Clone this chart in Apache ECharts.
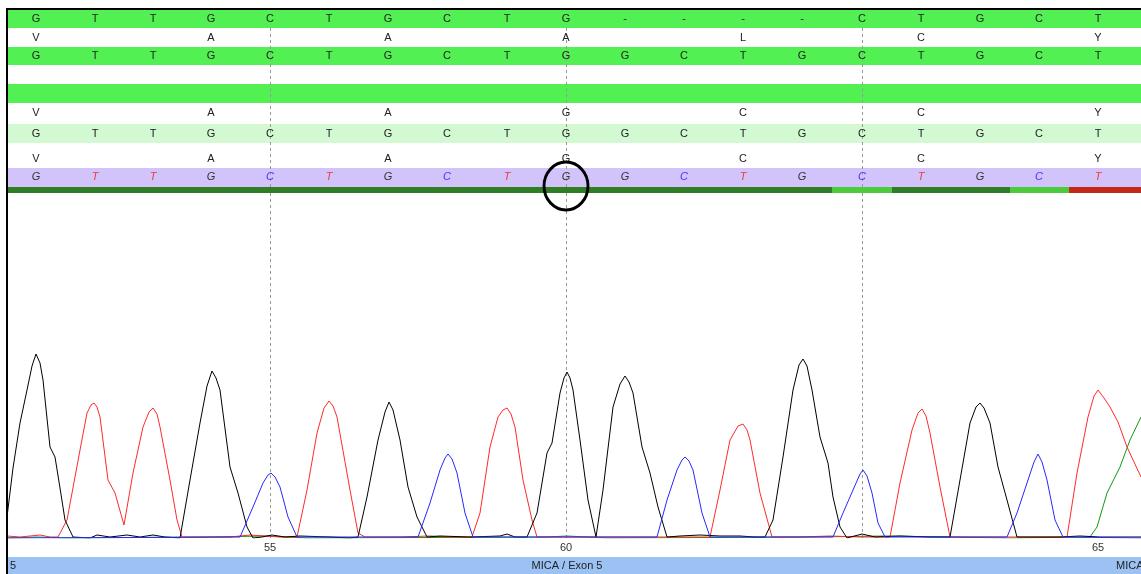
<!DOCTYPE html>
<html>
<head>
<meta charset="utf-8">
<script src="https://cdn.jsdelivr.net/npm/echarts@6/dist/echarts.min.js"></script>
<style>
html,body{margin:0;padding:0;background:#fff;}
#chart{width:1141px;height:574px;}
</style>
</head>
<body>
<div id="chart"></div>
<script>
// ---------- DATA ----------
// scan position of every base call (alignment column)
const callScans = [29,88,146,204,263,322,381,440,500,559,618,677,736,795,855,914,973,1032,1091];
// reference numbering of every column (null = insertion column)
const refPos = [51,52,53,54,55,56,57,58,59,60,null,null,null,null,61,62,63,64,65];
const refSeq       = ['G','T','T','G','C','T','G','C','T','G','-','-','-','-','C','T','G','C','T'];
const refAA        = ['V','','','A','','','A','','','A','','','L','','','C','','','Y'];
const consensusSeq = ['G','T','T','G','C','T','G','C','T','G','G','C','T','G','C','T','G','C','T'];
const sampleAA     = ['V','','','A','','','A','','','G','','','C','','','C','','','Y'];
const sampleSeq    = ['G','T','T','G','C','T','G','C','T','G','G','C','T','G','C','T','G','C','T'];
const callAA       = ['V','','','A','','','A','','','G','','','C','','','C','','','Y'];
const baseCalls    = ['G','T','T','G','C','T','G','C','T','G','G','C','T','G','C','T','G','C','T'];
const callQuality  = ['hi','hi','hi','hi','hi','hi','hi','hi','hi','hi','hi','hi','hi','hi','mid','hi','hi','mid','lo'];
const markerCols   = [5,10,15];
const circledCol   = 10;
const regionLabels = ['5','MICA / Exon 5','MICA'];

// trace samples [scan, signal]
const traceG = [[0,21],[6,70],[13,115],[20,148],[25,172],[29,184],[33,175],[36,158],[43,91],[48,81],[53,50],[58,18],[66,1],[83,0],[90,3],[103,1],[120,3],[133,1],[146,3],[158,1],[173,0],
 [183,58],[193,115],[200,152],[205,167],[209,160],[213,148],[223,71],[231,45],[240,11],[246,0],[255,1],[265,3],[278,1],[293,2],[323,1],[343,0],
 [351,1],[360,41],[371,98],[378,126],[382,136],[386,128],[393,98],[401,51],[410,21],[420,1],[433,2],[463,1],[493,2],[500,4],[508,1],[520,1],
 [530,25],[540,85],[545,95],[553,145],[557,160],[560,166],[563,160],[566,148],[573,98],[581,38],[589,1],
 [596,48],[606,131],[613,154],[618,162],[622,156],[626,145],[635,91],[643,65],[651,31],[660,1],[673,2],[693,3],[713,2],[733,2],[748,1],
 [758,1],[766,18],[776,81],[786,148],[792,173],[796,179],[800,172],[805,148],[813,101],[821,75],[826,41],[833,11],[840,0],[855,4],[868,1],[893,2],[923,1],
 [943,1],[953,58],[963,115],[969,131],[973,135],[977,130],[983,115],[991,71],[1000,38],[1010,1],[1023,1],[1053,1],[1073,2],[1093,1],[1134,1]];
const traceT = [[0,2],[13,1],[33,3],[43,1],[51,1],[60,18],[73,88],[80,125],[84,133],[87,135],[90,131],[93,121],[101,58],[108,45],[117,13],
 [126,65],[136,111],[142,126],[146,130],[150,124],[153,111],[163,58],[170,18],[175,1],[193,1],[223,1],[243,3],[258,2],[273,1],[290,1],
 [300,48],[310,105],[317,130],[322,137],[326,132],[330,121],[343,48],[351,5],[358,1],[393,1],[423,2],[443,1],[465,1],
 [473,25],[483,91],[491,121],[496,128],[500,130],[504,124],[508,111],[516,58],[525,18],[530,1],[553,1],[593,1],[633,1],[673,1],[703,1],
 [713,48],[723,98],[731,112],[736,114],[740,108],[743,98],[753,45],[765,1],[793,1],[823,2],[853,1],[883,1],
 [893,55],[905,108],[911,125],[915,129],[919,122],[923,105],[933,51],[943,1],[973,1],[1003,1],[1033,1],[1060,1],
 [1070,65],[1081,121],[1087,142],[1091,148],[1097,140],[1103,131],[1111,116],[1120,91],[1134,61]];
const traceC = [[0,0],[233,1],[246,31],[256,55],[261,63],[264,65],[268,61],[273,51],[281,21],[290,1],[411,1],
 [423,35],[433,68],[438,80],[441,84],[445,79],[450,65],[458,25],[466,1],[650,1],
 [660,38],[670,68],[675,78],[678,81],[682,77],[686,68],[695,25],[703,1],[826,1],
 [836,25],[846,48],[853,64],[856,68],[860,62],[865,45],[871,15],[878,1],[1000,1],
 [1010,25],[1020,55],[1027,76],[1031,84],[1035,76],[1040,58],[1048,18],[1056,1],[1134,0]];
const traceA = [[0,0],[30,1],[60,0],[200,1],[260,2],[300,0],[540,1],[560,2],[600,0],[800,1],[880,2],[1000,0],[1083,1],
 [1090,11],[1100,45],[1113,71],[1123,98],[1134,121]];

// ---------- LAYOUT / STYLE ----------
const X_MAX = 1134;
const TOP_H = 183, CH_H = 345;
const GREEN = '#52f052', LIGHT = '#d3f9d3', PURPLE = '#d2c3fa';
const ROWS = [
  {y0:0,  y1:18,  bg:GREEN,  seq:refSeq,       ty:9},
  {y0:18, y1:37,  bg:'#fff', seq:refAA,        ty:28},
  {y0:37, y1:55,  bg:GREEN,  seq:consensusSeq, ty:46},
  {y0:55, y1:74,  bg:'#fff'},
  {y0:74, y1:93,  bg:GREEN},
  {y0:93, y1:114, bg:'#fff', seq:sampleAA,     ty:103},
  {y0:114,y1:133, bg:LIGHT,  seq:sampleSeq,    ty:124},
  {y0:133,y1:158, bg:'#fff', seq:callAA,       ty:149},
  {y0:158,y1:177, bg:PURPLE, seq:baseCalls,    ty:167, italic:true}
];
const QBAR = {y0:177, y1:183};
const QCOL = {hi:'#2f7d24', mid:'#4ccc3c', lo:'#c4281a'};
const CALLCOL = {G:'#333333', T:'#ee3b3b', C:'#4433ff', A:'#119911'};
const FONT = '"Liberation Sans", Arial, sans-serif';

// derived
const letterData = [];
ROWS.forEach((r, ri) => {
  if (!r.seq) return;
  r.seq.forEach((s, ci) => { if (s) letterData.push([callScans[ci], r.ty, ci, ri]); });
});
const tickScans = [], tickText = {};
refPos.forEach((p, i) => { if (p !== null && p % 5 === 0) { tickScans.push(callScans[i]); tickText[callScans[i]] = String(p); } });
// merge consecutive columns with equal quality into runs
const qRuns = [];
callQuality.forEach((q, i) => {
  const x0 = i === 0 ? 0 : (callScans[i-1] + callScans[i]) / 2;
  const x1 = i === callScans.length - 1 ? X_MAX : (callScans[i] + callScans[i+1]) / 2;
  const last = qRuns[qRuns.length - 1];
  if (last && last.q === q) last.x1 = x1; else qRuns.push({q, x0, x1});
});

const chart = echarts.init(document.getElementById('chart'), null, {renderer:'canvas'});
const option = {
  animation: false,
  backgroundColor: '#fff',
  grid: [
    {left:7, right:0, top:10, height:TOP_H},
    {left:7, right:0, top:193, height:CH_H}
  ],
  xAxis: [
    {gridIndex:0, type:'value', min:0, max:X_MAX, show:false},
    {gridIndex:1, type:'value', min:0, max:X_MAX,
     axisLine:{show:false}, axisTick:{show:false}, splitLine:{show:false},
     axisLabel:{customValues:tickScans, formatter:v => tickText[v] || '', color:'#333', fontSize:11,
       fontFamily:FONT, margin:4}}
  ],
  yAxis: [
    {gridIndex:0, type:'value', min:0, max:TOP_H, inverse:true, show:false},
    {gridIndex:1, type:'value', min:0, max:CH_H, show:false}
  ],
  series: [
    { // row backgrounds
      type:'custom', xAxisIndex:0, yAxisIndex:0, z:1, silent:true,
      data: ROWS.map((r,i)=>[i]),
      renderItem:(params, api) => {
        const r = ROWS[api.value(0)];
        const p0 = api.coord([0, r.y0]), p1 = api.coord([X_MAX, r.y1]);
        return {type:'rect', shape:{x:p0[0], y:p0[1], width:p1[0]-p0[0], height:p1[1]-p0[1]}, style:{fill:r.bg}};
      }
    },
    { // quality bar
      type:'custom', xAxisIndex:0, yAxisIndex:0, z:2, silent:true,
      data: qRuns.map((r,i)=>[i]),
      renderItem:(params, api) => {
        const r = qRuns[api.value(0)];
        const p0 = api.coord([r.x0, QBAR.y0]), p1 = api.coord([r.x1, QBAR.y1]);
        const xa = Math.round(p0[0]), xb = Math.round(p1[0]);
        return {type:'rect', shape:{x:xa, y:p0[1], width:xb-xa, height:p1[1]-p0[1]}, style:{fill:QCOL[r.q]}};
      }
    },
    { // dashed markers (top)
      type:'custom', xAxisIndex:0, yAxisIndex:0, z:2, silent:true,
      data: markerCols.map(c=>[callScans[c-1]]),
      renderItem:(params, api) => {
        const a = api.coord([api.value(0), 18]), b = api.coord([api.value(0), QBAR.y0]);
        return {type:'line', shape:{x1:Math.round(a[0])+0.5, y1:a[1], x2:Math.round(b[0])+0.5, y2:b[1]},
                style:{stroke:'#999', lineWidth:1, lineDash:[3,3]}};
      }
    },
    { // dashed markers (traces)
      type:'custom', xAxisIndex:1, yAxisIndex:1, z:1, silent:true,
      data: markerCols.map(c=>[callScans[c-1]]),
      renderItem:(params, api) => {
        const a = api.coord([api.value(0), CH_H]), b = api.coord([api.value(0), 0]);
        return {type:'line', shape:{x1:Math.round(a[0])+0.5, y1:a[1]-6, x2:Math.round(b[0])+0.5, y2:b[1]},
                style:{stroke:'#999', lineWidth:1, lineDash:[3,3]}};
      }
    },
    { // letters
      type:'custom', xAxisIndex:0, yAxisIndex:0, z:3, silent:true,
      data: letterData,
      renderItem:(params, api) => {
        const p = api.coord([api.value(0), api.value(1)]);
        const r = ROWS[api.value(3)];
        const s = r.seq[api.value(2)];
        return {type:'text', x:p[0], y:p[1], style:{text:s, align:'center', verticalAlign:'middle',
          fill: r.italic ? (CALLCOL[s] || '#333') : '#222',
          font: (r.italic ? 'italic ' : '') + '11px ' + FONT}};
      }
    },
    { // highlight circle
      type:'scatter', xAxisIndex:0, yAxisIndex:0, z:6, silent:true, clip:false,
      data:[[callScans[circledCol-1], 176]],
      symbol:'circle', symbolSize:[44,48],
      itemStyle:{color:'rgba(0,0,0,0)', borderColor:'#000', borderWidth:3, opacity:1}
    },
    {type:'line', name:'A', xAxisIndex:1, yAxisIndex:1, data:traceA, showSymbol:false, smooth:false,
     lineStyle:{color:'#119911', width:1}, z:3},
    {type:'line', name:'T', xAxisIndex:1, yAxisIndex:1, data:traceT, showSymbol:false, smooth:false,
     lineStyle:{color:'#ff2a2a', width:1}, z:3},
    {type:'line', name:'G', xAxisIndex:1, yAxisIndex:1, data:traceG, showSymbol:false, smooth:false,
     lineStyle:{color:'#000', width:1}, z:3},
    {type:'line', name:'C', xAxisIndex:1, yAxisIndex:1, data:traceC, showSymbol:false, smooth:false,
     lineStyle:{color:'#2828ff', width:1}, z:3}
  ],
  graphic: [
    {type:'rect', shape:{x:8, y:557, width:1133, height:17}, style:{fill:'#9cc2f4'}, z:10},
    {type:'text', x:10, y:566, style:{text:regionLabels[0], font:'11px ' + FONT, fill:'#222', verticalAlign:'middle', align:'left'}, z:11},
    {type:'text', x:567, y:566, style:{text:regionLabels[1], font:'11px ' + FONT, fill:'#222', verticalAlign:'middle', align:'center'}, z:11},
    {type:'text', x:1116, y:566, style:{text:regionLabels[2], font:'11px ' + FONT, fill:'#222', verticalAlign:'middle', align:'left'}, z:11},
    {type:'rect', shape:{x:6, y:8, width:1135, height:2}, style:{fill:'#000'}, z:12},
    {type:'rect', shape:{x:6, y:8, width:2, height:566}, style:{fill:'#000'}, z:12}
  ]
};
chart.setOption(option);
</script>
</body>
</html>
